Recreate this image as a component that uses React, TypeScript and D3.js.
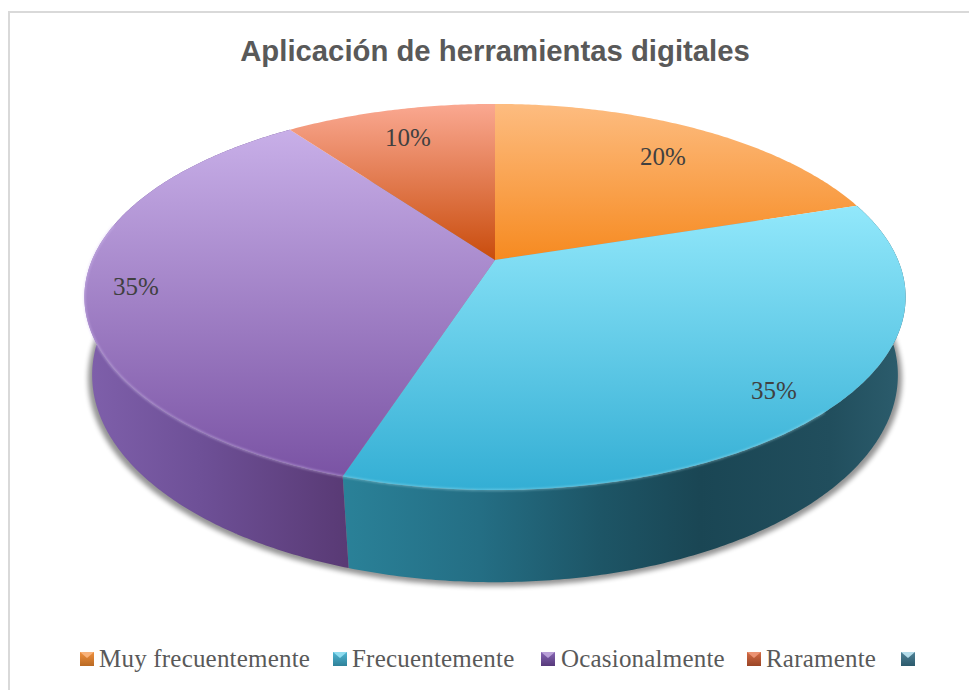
import React from "react";
import * as d3 from "d3";

const categories = ["Muy frecuentemente", "Frecuentemente", "Ocasionalmente", "Raramente", ""];
const values = [20, 35, 35, 10];
const valueLabels = ["20%", "35%", "35%", "10%"];
const labelPositions = [[663, 156], [774, 390], [136, 286], [408, 137]];
const topLight = ["#fdbc80", "#92e8fb", "#c8afe8", "#faa891"];
const topDark = ["#f68a20", "#33aed4", "#7a53a4", "#c94c0c"];
const legendLight = ["#f8b27a", "#8fdcef", "#b9a0d8", "#eb9272", "#b4dcea"];
const legendMid = ["#ef8f3c", "#4fb6d3", "#8665b4", "#d36b45", "#4f8196"];
const legendDark = ["#b96a24", "#2f8199", "#56397a", "#9a4526", "#2c5a6c"];
const legendSquareX = [80, 333, 541, 747, 901];
const legendTextX = [99, 352, 561, 766];
const cyanSideStops: [number, string][] = [[345, "#2a8198"], [480, "#246e84"], [600, "#1d5566"], [700, "#1a4654"], [830, "#214e5d"], [905, "#2c5d6d"]];
const purpleSideStops: [number, string][] = [[85, "#7f60ab"], [200, "#6e5097"], [345, "#593a75"]];

const CX = 495;
const topDisc = { A: 403, B: 186, y0: 260, k: -0.1917 };
const lowDisc = { A: 397, B: 201, y0: 340, k: -0.17 };
type Disc = typeof topDisc;

function project(d: Disc, a: number): [number, number] {
  const u = Math.sin(a), v = -Math.cos(a);
  const w = 1 + d.k * v;
  return [CX + (d.A * u) / w, d.y0 + (d.B * v) / w];
}
function rim(d: Disc, a0: number, a1: number) {
  const n = Math.max(4, Math.ceil((a1 - a0) / 0.01));
  return d3.range(n + 1).map((i) => project(d, a0 + ((a1 - a0) * i) / n));
}
const line = d3.line<[number, number]>().x((p) => p[0]).y((p) => p[1]);
const arcs = d3.pie<number>().sort(null)(values);
const TAU = Math.PI * 2;

export default function App() {
  const tops = arcs.map((s) => {
    const pts: [number, number][] = [[CX, topDisc.y0], ...rim(topDisc, s.startAngle, s.endAngle)];
    const ys = pts.map((p) => p[1]);
    return { d: line(pts) + "Z", y0: d3.min(ys)!, y1: d3.max(ys)! };
  });
  // The wall is a strip of quads, so its outline follows the tangent between both rims.
  const sidePath = (a0: number, a1: number) => {
    const t = rim(topDisc, a0, a1);
    const b = rim(lowDisc, a0, a1);
    return t.slice(1).map((p, i) => line([t[i], p, b[i + 1], b[i]]) + "Z").join("");
  };
  return (
    <svg width={969} height={690} style={{ position: "absolute", left: 0, top: 0, background: "#fff" }}>
      <defs>
        {tops.map((t, i) => (
          <linearGradient key={i} id={`top${i}`} gradientUnits="userSpaceOnUse" x1={0} x2={0} y1={t.y0} y2={t.y1}>
            <stop offset="0" stopColor={topLight[i]} />
            <stop offset="1" stopColor={topDark[i]} />
          </linearGradient>
        ))}
        <linearGradient id="sideCyan" gradientUnits="userSpaceOnUse" x1={345} x2={905} y1={0} y2={0}>
          {cyanSideStops.map(([x, c]) => <stop key={x} offset={(x - 345) / 560} stopColor={c} />)}
        </linearGradient>
        <linearGradient id="sidePurple" gradientUnits="userSpaceOnUse" x1={85} x2={345} y1={0} y2={0}>
          {purpleSideStops.map(([x, c]) => <stop key={x} offset={(x - 85) / 260} stopColor={c} />)}
        </linearGradient>
        <filter id="shadow" x="-10%" y="-10%" width="120%" height="120%">
          <feGaussianBlur stdDeviation="2.5" />
        </filter>
        <filter id="soft" x="-5%" y="-5%" width="110%" height="110%">
          <feGaussianBlur stdDeviation="0.9" />
        </filter>
        {legendSquareX.map((_, i) => (
          <linearGradient key={i} id={`leg${i}`} x1="0" x2="0" y1="0" y2="1">
            <stop offset="0" stopColor={legendMid[i]} />
            <stop offset="1" stopColor={legendDark[i]} />
          </linearGradient>
        ))}
      </defs>

      <path d="M969 12 H9 V690" fill="none" stroke="#d9d9d9" strokeWidth={2} />

      <text x={495} y={61} textAnchor="middle" fontFamily="Liberation Sans" fontWeight="bold" fontSize={29.3} fill="#595959">
        Aplicación de herramientas digitales
      </text>

      <path
        d={line(rim({ ...lowDisc, A: lowDisc.A + 4, B: lowDisc.B + 1, y0: lowDisc.y0 + 3 }, 0, TAU))! + "Z"}
        fill="#000"
        opacity={0.42}
        filter="url(#shadow)"
      />
      <path d={sidePath(arcs[1].startAngle, arcs[1].endAngle)} fill="url(#sideCyan)" />
      <path d={sidePath(arcs[2].startAngle, arcs[2].endAngle)} fill="url(#sidePurple)" />

      {tops.map((t, i) => <path key={i} d={t.d} fill={`url(#top${i})`} />)}

      <path d={line(rim(topDisc, arcs[1].startAngle + 1.1, arcs[1].endAngle))!} fill="none" stroke="#bdf1fb" strokeOpacity={0.45} strokeWidth={1.6} filter="url(#soft)" />
      <path d={line(rim(topDisc, arcs[2].startAngle, arcs[2].endAngle - 0.75))!} fill="none" stroke="#d8c6f4" strokeOpacity={0.55} strokeWidth={1.6} filter="url(#soft)" />

      {valueLabels.map((l, i) => (
        <text key={i} x={labelPositions[i][0]} y={labelPositions[i][1]} dy="0.35em" textAnchor="middle" fontFamily="Liberation Serif" fontSize={25} fill="#404040">
          {l}
        </text>
      ))}

      {legendSquareX.map((x, i) => (
        <g key={i}>
          <rect x={x} y={652} width={14} height={14} fill={`url(#leg${i})`} />
          <path d={`M${x} 652 h14 l-7 6 Z`} fill={legendLight[i]} />
          {categories[i] ? (
            <text x={legendTextX[i]} y={667} fontFamily="Liberation Serif" fontSize={25} letterSpacing={0.2} fill="#595959">
              {categories[i]}
            </text>
          ) : null}
        </g>
      ))}
    </svg>
  );
}
